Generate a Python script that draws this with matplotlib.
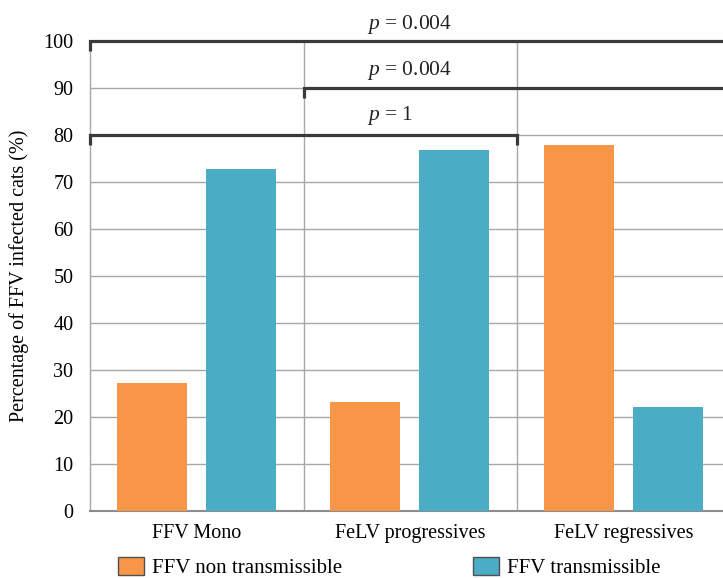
import matplotlib
matplotlib.use("Agg")
import matplotlib.pyplot as plt
from matplotlib.patches import Patch

categories = ["FFV Mono", "FeLV progressives", "FeLV regressives"]
non_transmissible = [27.3, 23.1, 77.8]
transmissible = [72.7, 76.9, 22.2]
yticks = [0, 10, 20, 30, 40, 50, 60, 70, 80, 90, 100]
series_labels = ["FFV non transmissible", "FFV transmissible"]
p_labels = ["$p$ = 0.004", "$p$ = 0.004", "$p$ = 1"]

plt.rcParams['font.family'] = ['Liberation Serif', 'DejaVu Serif']
plt.rcParams['mathtext.fontset'] = 'custom'
plt.rcParams['mathtext.rm'] = 'Liberation Serif'
plt.rcParams['mathtext.it'] = 'Liberation Serif:italic'

FS = 14.5
ORANGE = '#F79646'
BLUE = '#4BACC6'
GRID = '#a8a8a8'
DARK = '#3a3a3a'

fig = plt.figure(figsize=(7.23, 5.78), dpi=100)
ax = fig.add_axes([0.1245, 0.1159, 1.0104 - 0.1245, 0.929 - 0.1159])

xs = list(range(len(categories)))
w = 0.328
ax.bar([x + 0.29 for x in xs], non_transmissible, width=w, color=ORANGE, zorder=3)
ax.bar([x + 0.707 for x in xs], transmissible, width=w, color=BLUE, zorder=3)

ax.set_xlim(0, 3)
ax.set_ylim(0, 100)
ax.set_yticks(yticks)
ax.set_yticklabels([str(v) for v in yticks], fontsize=FS)
ax.set_xticks([x + 0.5 for x in xs])
ax.set_xticklabels(categories, fontsize=FS)
ax.set_xticks([1, 2], minor=True)
ax.tick_params(axis='both', which='both', length=0)
ax.tick_params(axis='y', pad=12)
ax.tick_params(axis='x', pad=9)
ax.grid(axis='y', color=GRID, lw=1.0, zorder=0)
ax.grid(axis='x', which='minor', color=GRID, lw=1.0, zorder=0)
ax.grid(axis='x', which='major', visible=False)

for s in ['top', 'right']:
    ax.spines[s].set_visible(False)
ax.spines['left'].set_color(GRID)
ax.spines['left'].set_linewidth(1.0)
ax.spines['bottom'].set_color('#8c8c8c')
ax.spines['bottom'].set_linewidth(1.5)

ax.set_ylabel("Percentage of FFV infected cats (%)", fontsize=FS, labelpad=10)

# significance brackets
blw = 2.3
ax.plot([0, 0, 3.3], [97.8, 100, 100], color=DARK, lw=blw, clip_on=False, zorder=5,
        solid_capstyle='butt', solid_joinstyle='miter')
ax.plot([1, 1, 3.3], [87.8, 90, 90], color=DARK, lw=blw, clip_on=False, zorder=5,
        solid_capstyle='butt', solid_joinstyle='miter')
ax.plot([0, 0, 2, 2], [77.8, 80, 80, 77.8], color=DARK, lw=blw, clip_on=False, zorder=5,
        solid_capstyle='butt', solid_joinstyle='miter')
for lab, yb, off in zip(p_labels, [100, 90, 80], [2.6, 2.8, 3.3]):
    ax.text(1.297, yb + off, lab, fontsize=15.5, ha='left', va='baseline', color='#222222')

handles = [Patch(facecolor=ORANGE, edgecolor='#505050', lw=1.0),
           Patch(facecolor=BLUE, edgecolor='#505050', lw=1.0)]
fig.legend(handles, series_labels, ncol=2, loc='lower left',
           bbox_to_anchor=(118 / 723, 0.0), frameon=False, fontsize=15,
           handlelength=1.25, handleheight=1.0, handletextpad=0.4,
           columnspacing=6.25, borderpad=0, borderaxespad=0)

fig.savefig("out.png", dpi=100)
